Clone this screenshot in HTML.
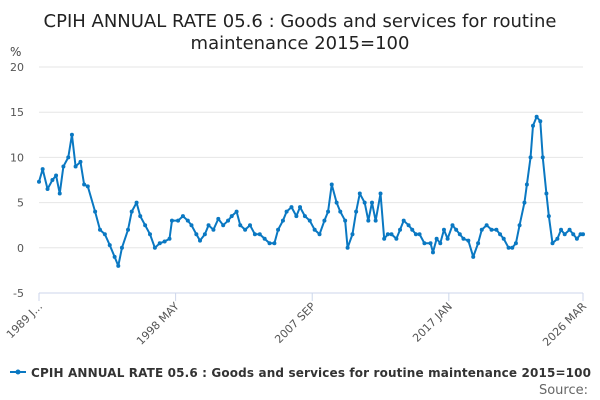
<!DOCTYPE html>
<html><head><meta charset="utf-8"><style>
body{margin:0;background:#fff;font-family:"DejaVu Sans",sans-serif}
#wrap{position:relative;width:600px;height:400px;overflow:hidden}
text{font-family:"DejaVu Sans",sans-serif}
</style></head><body><div id="wrap">
<svg id="svg" width="600" height="400" xmlns="http://www.w3.org/2000/svg">
<text x="300" y="27" text-anchor="middle" font-size="18" fill="#222">CPIH ANNUAL RATE 05.6 : Goods and services for routine</text>
<text x="300" y="49" text-anchor="middle" font-size="18" fill="#222">maintenance 2015=100</text>
<text x="10" y="56" font-size="12" fill="#444">%</text>
<g id="grid"></g><g id="xaxis"></g><g id="series"></g>
<g>
<line x1="10" y1="372" x2="26" y2="372" stroke="#0a78c2" stroke-width="2"/><circle cx="18" cy="372" r="2.5" fill="#0a78c2"/>
<text x="31" y="377" font-size="12" font-weight="bold" fill="#333" textLength="560">CPIH ANNUAL RATE 05.6 : Goods and services for routine maintenance 2015=100</text></g>
<text x="588" y="394" text-anchor="end" font-size="13" fill="#666">Source:</text>
</svg></div>
<script>
const yTicks=[20,15,10,5,0,-5];
const xTickLabels=["1989 J...","1998 MAY","2007 SEP","2017 JAN","2026 MAR"];
const xTickMonths=[0,112,224,336,446];
const months=[0,3,7,11,14,17,20,24,27,30,34,37,40,46,50,54,58,62,65,68,73,76,80,83,87,91,95,99,103,107,109,114,118,122,125,129,132,136,139,143,147,151,155,158,162,165,169,173,177,181,185,189,193,196,200,203,207,211,214,218,222,226,230,234,237,240,244,247,251,253,257,260,263,267,270,273,276,280,283,286,289,293,296,299,303,306,309,312,316,321,323,326,329,332,335,339,342,345,348,352,356,360,363,367,371,375,378,381,385,388,391,394,398,400,403,405,408,411,413,416,418,421,425,428,431,435,438,441,444,446];
const values=[7.3,8.7,6.5,7.5,8,6,9,10,12.5,9,9.5,7,6.8,4,2,1.5,0.3,-1,-2,0,2,4,5,3.5,2.5,1.5,0,0.5,0.7,1,3,3,3.5,3,2.5,1.5,0.8,1.5,2.5,2,3.2,2.5,3,3.5,4,2.5,2,2.5,1.5,1.5,1,0.5,0.5,2,3,4,4.5,3.5,4.5,3.5,3,2,1.5,3,4,7,5,4,3,0,1.5,4,6,5,3,5,3,6,1,1.5,1.5,1,2,3,2.5,2,1.5,1.5,0.5,0.5,-0.5,1,0.5,2,1,2.5,2,1.5,1,0.8,-1,0.5,2,2.5,2,2,1.5,1,0,0,0.5,2.5,5,7,10,13.5,14.5,14,10,6,3.5,0.5,1,2,1.5,2,1.5,1,1.5,1.5];
const X0=39,X1=583,Y20=67,Ym5=293,NM=446;
const xs=m=>X0+(X1-X0)*m/NM;
const ys=v=>Y20+(20-v)*(Ym5-Y20)/25;
const NS="http://www.w3.org/2000/svg";
function mk(t,a,p){const e=document.createElementNS(NS,t);for(const k in a)e.setAttribute(k,a[k]);p.appendChild(e);return e;}
const grid=document.getElementById('grid'),xa=document.getElementById('xaxis'),se=document.getElementById('series');
yTicks.forEach(v=>{
 const l=mk('line',{x1:X0,x2:X1,y1:ys(v),y2:ys(v),stroke:v===-5?'#ccd6eb':'#e6e6e6','stroke-width':1},grid);
 
 
 const t=mk('text',{x:24,y:ys(v)+4,'text-anchor':'end','font-size':11,fill:'#555'},grid);
 t.textContent=v;
 
 
});
xTickMonths.forEach((m,i)=>{
 const x=xs(m);
 const tk=mk('line',{x1:x,x2:x,y1:Ym5,y2:Ym5+8,stroke:'#ccd6eb'},xa);
 
 
 const t=mk('text',{x:x+4,y:Ym5+14,'text-anchor':'end','font-size':11,fill:'#555',transform:`rotate(-45 ${x+4} ${Ym5+14})`},xa);
 t.textContent=xTickLabels[i];
 
 
});
const p=mk('polyline',{points:months.map((m,i)=>xs(m)+','+ys(values[i])).join(' '),fill:'none',stroke:'#0a78c2','stroke-width':2,'stroke-linejoin':'round'},se);


months.forEach((m,i)=>{
 const c=mk('circle',{cx:xs(m),cy:ys(values[i]),r:2,fill:'#0a78c2'},se);
 
 
});
</script></body></html>
